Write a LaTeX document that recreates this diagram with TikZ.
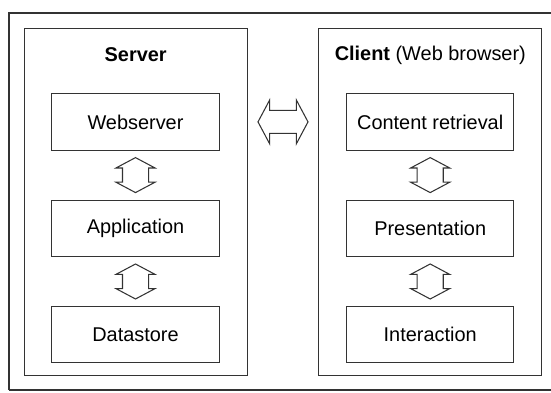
\documentclass[tikz,border=0pt]{standalone}
\usepackage{fontspec}
\setmainfont{Liberation Sans}
\usetikzlibrary{positioning,shapes.arrows,calc}

\begin{document}
\begin{tikzpicture}
  [
    x = 0.03cm, y = -0.03cm,
    every node/.style = {font = \fontsize{17}{20}\selectfont},
    frame/.style = {draw = black!80, line width = 0.9pt},
    part/.style = {frame, minimum width = 5.02cm, minimum height = 1.69cm, inner sep = 0pt},
    tier/.style = {frame, minimum width = 6.68cm, minimum height = 10.42cm, inner sep = 0pt},
    link/.style = {frame, double arrow, inner xsep = 0pt, double arrow tip angle = 124},
    uplink/.style = {link, rotate = 90, minimum height = 1.05cm, inner ysep = 0.375cm,
        double arrow head extend = 0.195cm},
  ]

  \useasboundingbox (0,0) rectangle (551,393);

  % outer frame, open on the right
  \draw[frame] (9,390) -- (9,13) -- (556,13);
  \draw[black!80, line width = 1.8pt] (9,390) -- (556,390);

  \node[tier] (server) at (135.7,202) {};
  \node[tier] (client) at (430.3,202) {};

  \node (servertitle) at (135.7,55) {\textbf{Server}};
  \node (clienttitle) at (430.3,55) {\textbf{Client} (Web browser)};

  \node[part] (webserver) at (135.5,121.9) {Webserver};
  \node[part, below = 1.47cm of webserver] (application) {Application};
  \node[part, below = 1.47cm of application] (datastore) {Datastore};

  \node[part] (retrieval) at (430.2,121.9) {Content retrieval};
  \node[part, below = 1.47cm of retrieval] (presentation) {Presentation};
  \node[part, below = 1.47cm of presentation] (interaction) {Interaction};

  \foreach \a/\b in {webserver/application, application/datastore,
      retrieval/presentation, presentation/interaction}{
      \node[uplink] (\a-\b) at ($(\a.south)!0.5!(\b.north)$) {};
    }

  \node[link, minimum height = 1.5cm, inner ysep = 0.33cm,
    double arrow head extend = 0.315cm] (exchange)
    at ($(server.east |- webserver)!0.5!(client.west |- webserver)$) {};

\end{tikzpicture}
\end{document}
